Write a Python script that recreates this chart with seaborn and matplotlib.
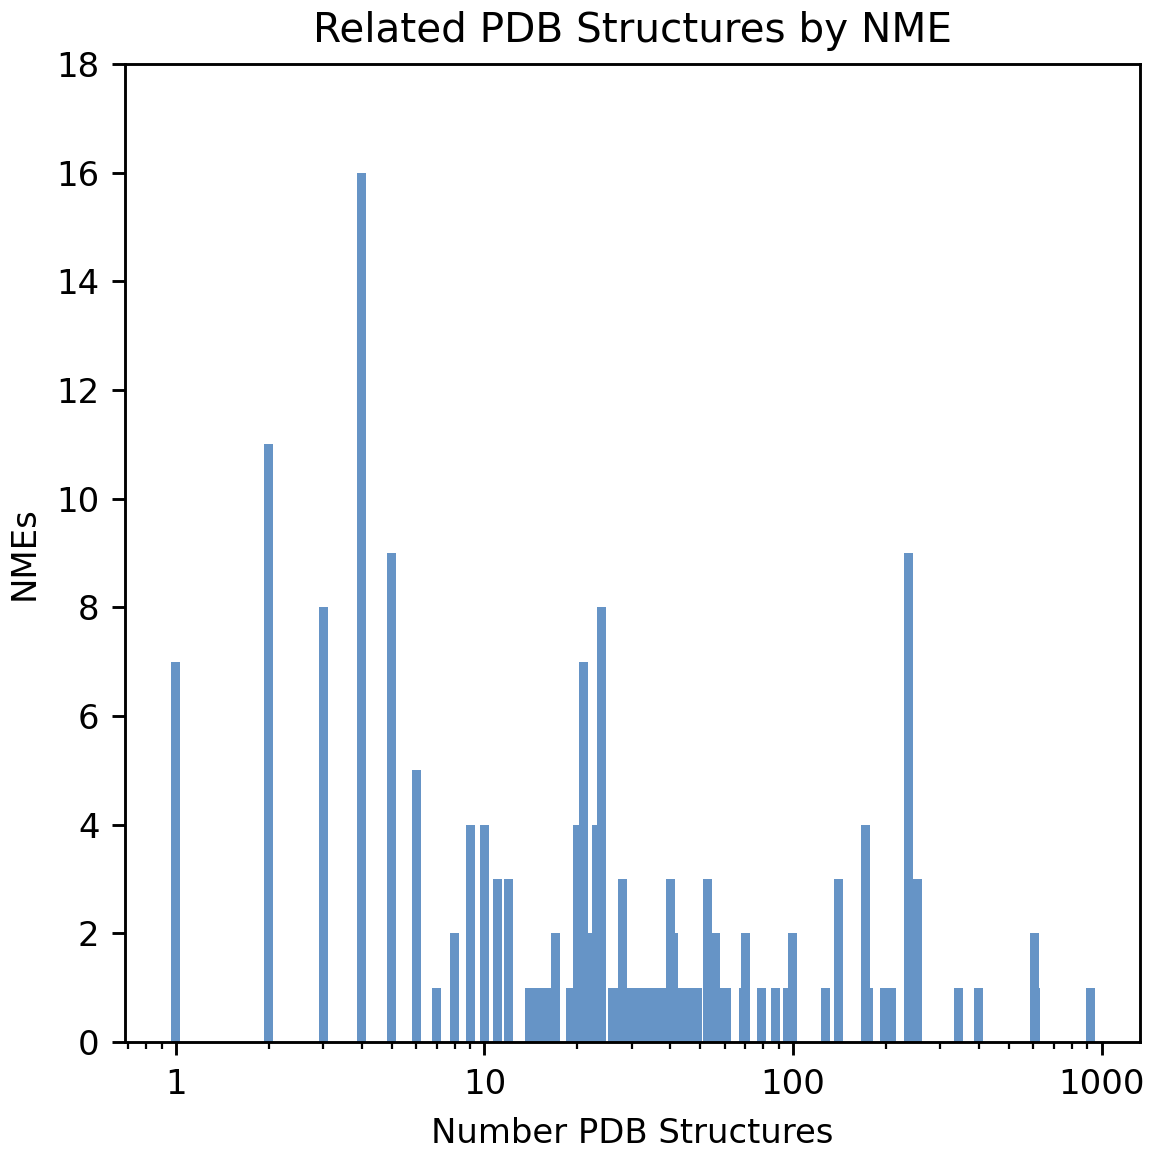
import numpy as np
import pandas as pd
import matplotlib
matplotlib.use("Agg")
import matplotlib.pyplot as plt
from matplotlib.ticker import NullFormatter, FixedLocator
import seaborn as sns

# Number of related PDB structures (x) and number of NMEs with that count (y)
n_structures = [1, 2, 3, 4, 5, 6, 7, 8, 9, 10, 11, 12,
                14, 15, 16, 17, 19, 20, 21, 22, 23, 24,
                26, 27, 28, 29, 30, 31, 32, 34, 35, 36, 38, 40, 41, 43, 45, 46, 48, 49,
                53, 56, 58, 61, 69, 70, 79, 88, 96, 100,
                127, 140, 172, 176, 198, 208, 236, 254, 344, 398, 607, 612, 923]
n_nmes = [7, 11, 8, 16, 9, 5, 1, 2, 4, 4, 3, 3,
          1, 1, 1, 2, 1, 4, 7, 2, 4, 8,
          1, 1, 3, 1, 1, 1, 1, 1, 1, 1, 1, 3, 2, 1, 1, 1, 1, 1,
          3, 2, 1, 1, 1, 2, 1, 1, 1, 2,
          1, 3, 4, 1, 1, 1, 9, 3, 1, 1, 2, 1, 1]

x_ticks = [1, 10, 100, 1000]
x_tick_labels = ["1", "10", "100", "1000"]
y_ticks = list(range(0, 19, 2))

df = pd.DataFrame({"structures": n_structures, "nmes": n_nmes})

fig = plt.figure(figsize=(1157 / 230, 1149 / 230), dpi=230)
ax = fig.add_axes([0.108, 0.0931, 0.8773, 0.8512])

# bar width: constant in log space (~0.0292 decades)
logv = np.log10(np.unique(df["structures"]))
native_w = np.diff(logv).min()
bar_w = 0.0292 / native_w

sns.barplot(data=df, x="structures", y="nmes", native_scale=True,
            log_scale=(True, False), orient="x", errorbar=None,
            color="#6694c6", saturation=1, width=bar_w,
            edgecolor="none", linewidth=0, ax=ax)

ax.set_xscale("log")
ax.set_xlim(0.6835, 1332.6)
ax.set_ylim(0, 18)
ax.xaxis.set_major_locator(FixedLocator(x_ticks))
ax.set_xticklabels(x_tick_labels)
ax.xaxis.set_minor_formatter(NullFormatter())
ax.set_yticks(y_ticks)
ax.tick_params(axis="both", which="major", labelsize=10.6, length=4, width=0.9, pad=4)
ax.tick_params(axis="both", which="minor", length=2.3, width=0.7)

for s in ax.spines.values():
    s.set_visible(True)
    s.set_color("black")
    s.set_linewidth(0.9)

ax.set_title("Related PDB Structures by NME", fontsize=12.7, pad=7)
ax.set_xlabel("Number PDB Structures", fontsize=10.6, labelpad=5)
ax.set_ylabel("NMEs", fontsize=10.6, labelpad=5)

fig.savefig("out.png", dpi=230)
